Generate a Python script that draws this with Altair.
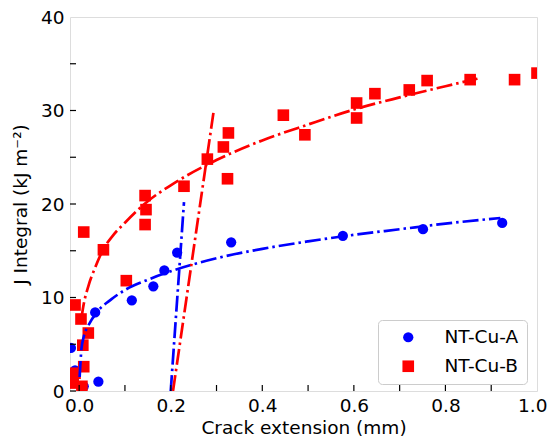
import altair as alt
import pandas as pd

# ---- data ----
series_names = ["NT-Cu-A", "NT-Cu-B"]

a_x = [-0.018, -0.009, 0.010, 0.042, 0.035, 0.115, 0.162, 0.186, 0.214, 0.332, 0.576, 0.751, 0.924]
a_y = [4.6, 2.2, 0.5, 1.0, 8.4, 9.7, 11.2, 12.9, 14.8, 15.9, 16.6, 17.3, 17.97]

b_x = [-0.013, -0.009, 0.006, 0.010, 0.008, 0.020, 0.004, -0.009, 0.010, 0.053, 0.103,
       0.144, 0.146, 0.144, 0.229, 0.280, 0.315, 0.326, 0.324, 0.446, 0.493, 0.606,
       0.606, 0.646, 0.721, 0.760, 0.854, 0.951, 1.000]
b_y = [0.85, 1.9, 0.5, 2.6, 4.9, 6.2, 7.7, 9.2, 17.0, 15.1, 11.8,
       17.8, 19.4, 20.9, 21.9, 24.8, 26.1, 27.6, 22.7, 29.5, 27.4, 30.8,
       29.2, 31.8, 32.2, 33.2, 33.3, 33.3, 34.0]

# fitted curves
fit_a_x = [0.001, 0.005, 0.01, 0.02, 0.04, 0.07, 0.10, 0.15, 0.20, 0.30, 0.40, 0.50, 0.60, 0.70, 0.80, 0.92]
fit_a_y = [1.5, 4.5, 5.8, 7.0, 8.5, 9.8, 10.8, 11.9, 12.8, 14.2, 15.2, 16.0, 16.7, 17.3, 17.9, 18.5]

fit_b_x = [0.005, 0.01, 0.02, 0.035, 0.05, 0.075, 0.10, 0.15, 0.20, 0.30, 0.40, 0.50, 0.60, 0.70, 0.80, 0.87]
fit_b_y = [7.8, 9.3, 11.2, 13.2, 14.9, 16.7, 18.0, 20.3, 22.0, 24.7, 26.8, 28.5, 30.1, 31.4, 32.6, 33.4]

# blunting / exclusion lines
blunt_a_x = [0.200, 0.229]
blunt_a_y = [0.0, 20.2]
blunt_b_x = [0.205, 0.294]
blunt_b_y = [0.0, 30.0]

x_tick_vals = [0.0, 0.1, 0.2, 0.3, 0.4, 0.5, 0.6, 0.7, 0.8, 0.9]
y_tick_vals = [0, 5, 10, 15, 20, 25, 30, 35]
x_label_vals = [0.0, 0.2, 0.4, 0.6, 0.8, 1.0]
y_label_vals = [0, 10, 20, 30, 40]

BLUE = "#0000ff"
RED = "#ff0000"
FONT = "DejaVu Sans"
W, H = 467, 374

pts = pd.DataFrame({
    "x": a_x + b_x,
    "y": a_y + b_y,
    "series": [series_names[0]] * len(a_x) + [series_names[1]] * len(b_x),
})

xscale = alt.Scale(domain=[-0.02, 1.0], nice=False, zero=False)
yscale = alt.Scale(domain=[0, 40], nice=False, zero=False)

xaxis = alt.Axis(values=x_label_vals, format=".1f", ticks=False, domain=False, grid=False,
                 labelFont=FONT, labelFontSize=18.5, labelColor="#000", labelPadding=5,
                 title="Crack extension (mm)", titleFont=FONT, titleFontSize=18.5,
                 titleFontWeight="normal", titleColor="#000", titlePadding=4,
                 labelFlush=True, labelFlushOffset=10)
yaxis = alt.Axis(values=y_label_vals, format="d", ticks=False, domain=False, grid=False,
                 labelFont=FONT, labelFontSize=18.5, labelColor="#000", labelPadding=6,
                 title="J Integral (kJ m⁻²)", titleFont=FONT, titleFontSize=18.5,
                 titleFontWeight="normal", titleColor="#000", titlePadding=10,
                 labelFlush=False)

points = alt.Chart(pts).mark_point(filled=True, opacity=1, clip=True, strokeWidth=0).encode(
    x=alt.X("x:Q", scale=xscale, axis=xaxis),
    y=alt.Y("y:Q", scale=yscale, axis=yaxis),
    color=alt.Color("series:N", scale=alt.Scale(domain=series_names, range=[BLUE, RED]),
                    legend=alt.Legend(title=None, orient="none", legendX=308, legendY=303,
                                      labelFont=FONT, labelFontSize=18.5, labelColor="#000",
                                      symbolSize=120, symbolOffset=13, labelOffset=27,
                                      rowPadding=10, padding=8, strokeColor="#cccccc",
                                      fillColor="white", cornerRadius=4, symbolStrokeWidth=0)),
    shape=alt.Shape("series:N", scale=alt.Scale(domain=series_names, range=["circle", "square"])),
    size=alt.Size("series:N", scale=alt.Scale(domain=series_names, range=[105, 135]), legend=None),
)

DASH = [16, 4, 2.5, 4]


def line_layer(xs, ys, color, interp="linear"):
    df = pd.DataFrame({"x": xs, "y": ys})
    return alt.Chart(df).mark_line(color=color, strokeWidth=2.7, strokeDash=DASH,
                                   clip=True, interpolate=interp, strokeCap="butt").encode(
        x=alt.X("x:Q", scale=xscale),
        y=alt.Y("y:Q", scale=yscale),
    )


fa = line_layer(fit_a_x, fit_a_y, BLUE, "monotone")
ba = line_layer(blunt_a_x, blunt_a_y, BLUE)
fb = line_layer(fit_b_x, fit_b_y, RED, "monotone")
bb = line_layer(blunt_b_x, blunt_b_y, RED)

xt = alt.Chart(pd.DataFrame({"x": x_tick_vals})).mark_rule(color="#000", strokeWidth=1.2).encode(
    x=alt.X("x:Q", scale=xscale), y=alt.value(H), y2=alt.value(H - 6))
yt = alt.Chart(pd.DataFrame({"y": y_tick_vals})).mark_rule(color="#000", strokeWidth=1.2).encode(
    y=alt.Y("y:Q", scale=yscale), x=alt.value(0), x2=alt.value(6))

chart = alt.layer(points, fa, ba, fb, bb, xt, yt).properties(
    width=W, height=H,
    autosize=alt.AutoSizeParams(type="none"),
    padding={"left": 62, "top": 9, "right": 10, "bottom": 51},
).configure_view(stroke="#000", strokeWidth=1.4).configure(background="white")

chart.save("out.html", embed_options={"renderer": "svg", "actions": False})
